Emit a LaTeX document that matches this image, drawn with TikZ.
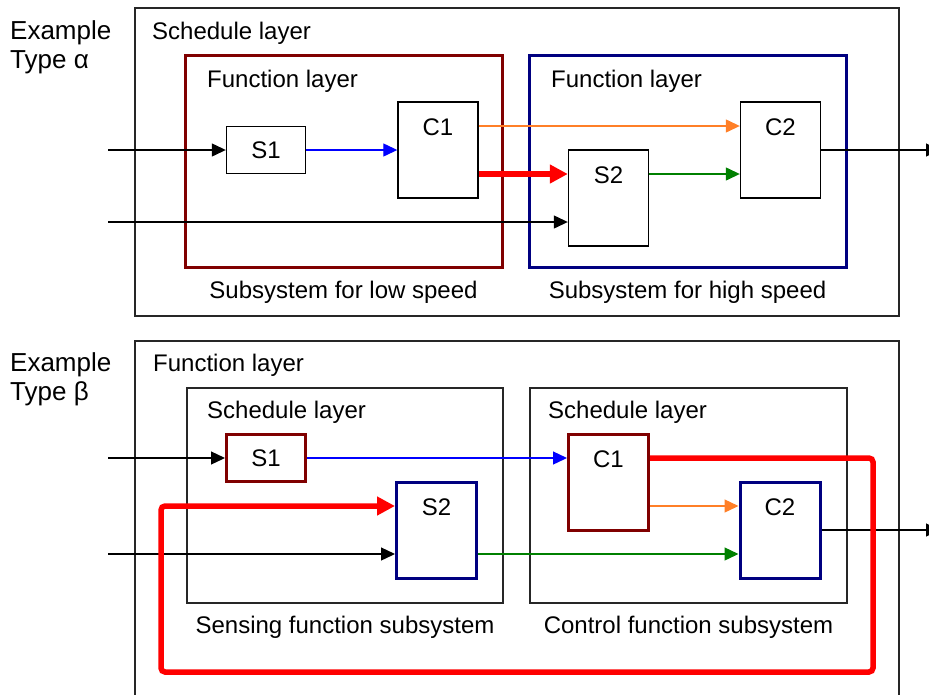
\documentclass[tikz,border=0pt]{standalone}
\usepackage{fontspec}
\setmainfont{Liberation Sans}
\usetikzlibrary{arrows.meta}
\definecolor{fsdkred}{HTML}{800000}
\definecolor{fsnavy}{HTML}{000080}
\definecolor{fsblue}{HTML}{0000FF}
\definecolor{fsorange}{HTML}{FF7F27}
\definecolor{fsgreen}{HTML}{008000}
\definecolor{fsred}{HTML}{FF0000}

\begin{document}
\begin{tikzpicture}[x=1pt, y=-1pt,
    every node/.style={font=\fontsize{24}{29}\selectfont},
    frame/.style={draw=black!85, line width=1.5pt},
    blk/.style={draw, rectangle, line width=1.4pt, fill=white, inner sep=0pt},
    smallblk/.style={blk, minimum width=79pt, minimum height=47pt},
    tallblk/.style={blk, minimum width=80pt, text height=17pt, text depth=47pt, inner ysep=16pt},
    redblk/.style={draw=fsdkred, line width=3pt},
    navyblk/.style={draw=fsnavy, line width=3pt},
    lbl/.style={anchor=base west, inner sep=0pt},
    captxt/.style={anchor=base, inner sep=0pt},
    exlbl/.style={anchor=north west, align=left, inner sep=0pt, font=\fontsize{26}{29}\selectfont},
    arr/.style={-{Triangle[length=14pt,width=13pt]}, line width=1.3pt},
    bigarr/.style={-{Triangle[length=18pt,width=18pt]}, line width=5.5pt, fsred}]
  \clip (0,0) rectangle (929,694);

  % type alpha
  \draw[frame] (135,8) rectangle (899,316);
  \draw[frame, fsdkred, line width=3pt] (185,55) rectangle (502,267);
  \draw[frame, fsnavy, line width=3pt] (529,55) rectangle (846,267);
  \node[exlbl] (exa) at (10,20) {Example\\Type α};
  \node[lbl] (schedA) at (152,39) {Schedule layer};
  \node[lbl] (funcA) at (207,87) {Function layer};
  \node[lbl] (funcB) at (551,87) {Function layer};
  \node[captxt] (capA) at (343.5,298) {Subsystem for low speed};
  \node[captxt] (capB) at (687.5,298) {Subsystem for high speed};

  \node[smallblk] (s1a) at (266,150) {S1};
  \node[tallblk] (c1a) at (438,150) {C1};
  \node[tallblk] (s2a) at (608.5,198) {S2};
  \node[tallblk] (c2a) at (780.5,150) {C2};

  \coordinate (inA1) at (108,150);
  \coordinate (inA2) at (108,222);
  \coordinate (outA) at (940,150);

  \draw[arr] (inA1) -- (s1a);
  \draw[arr] (inA2) -- ([yshift=-24pt]s2a.west);
  \draw[arr, fsblue] (s1a) -- (c1a);
  \draw[arr, fsorange] ([yshift=24pt]c1a.east) -- ([yshift=24pt]c2a.west);
  \draw[bigarr] ([yshift=-24pt]c1a.east) -- ([yshift=24pt]s2a.west);
  \draw[arr, fsgreen] ([yshift=24pt]s2a.east) -- ([yshift=-24pt]c2a.west);
  \draw[arr] (c2a) -- (outA);

  % type beta
  \draw[frame] (135,341) rectangle (899,720);
  \draw[frame] (187,388) rectangle (503,603);
  \draw[frame] (530,388) rectangle (847,603);
  \node[exlbl] (exb) at (10,352) {Example\\Type β};
  \node[lbl] (funcC) at (153,371) {Function layer};
  \node[lbl] (schedB) at (207,418) {Schedule layer};
  \node[lbl] (schedC) at (548,418) {Schedule layer};
  \node[captxt] (capC) at (345,633) {Sensing function subsystem};
  \node[captxt] (capD) at (688.5,633) {Control function subsystem};

  \node[smallblk, redblk] (s1b) at (266,458) {S1};
  \node[tallblk, navyblk] (s2b) at (436.5,530) {S2};
  \node[tallblk, redblk] (c1b) at (608.5,482) {C1};
  \node[tallblk, navyblk] (c2b) at (780,530) {C2};

  \coordinate (inB1) at (108,458);
  \coordinate (inB2) at (108,554);
  \coordinate (outB) at (940,530);
  \coordinate (loopR) at (873,672);
  \coordinate (loopL) at (161,672);

  \draw[arr] (inB1) -- (s1b);
  \draw[arr] (inB2) -- ([yshift=-24pt]s2b.west);
  \draw[arr, fsblue] (s1b) -- ([yshift=24pt]c1b.west);
  \draw[arr, fsorange] ([yshift=-24pt]c1b.east) -- ([yshift=24pt]c2b.west);
  \draw[arr, fsgreen] ([yshift=-24pt]s2b.east) -- ([yshift=-24pt]c2b.west);
  \draw[arr] (c2b) -- (outB);
  \draw[bigarr, rounded corners=4pt] ([yshift=24pt]c1b.east) -| (loopR) -- (loopL) |- ([yshift=24pt]s2b.west);
\end{tikzpicture}
\end{document}
